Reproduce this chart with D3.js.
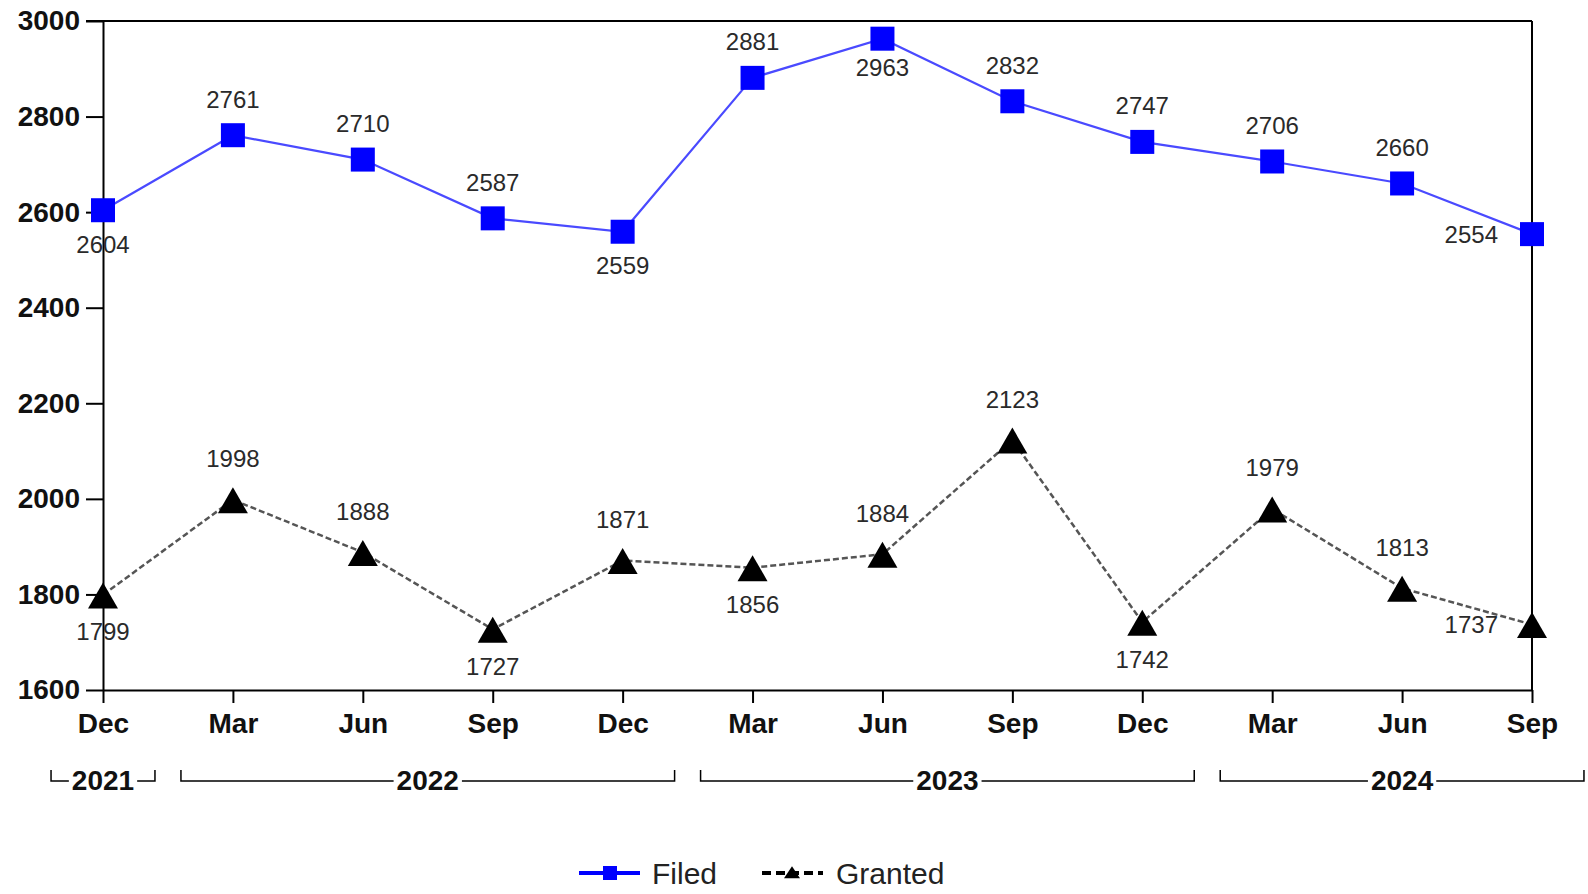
<!DOCTYPE html>
<html>
<head>
<meta charset="utf-8">
<script src="https://cdn.jsdelivr.net/npm/d3@7"></script>
<style>
  body { margin: 0; background: #fff; }
  text { font-family: "Liberation Sans", Arial, sans-serif; }
</style>
</head>
<body>
<script>
// quarters shown on the x axis
var months = ["Dec", "Mar", "Jun", "Sep", "Dec", "Mar", "Jun", "Sep", "Dec", "Mar", "Jun", "Sep"];
var years  = ["2021", "2022", "2022", "2022", "2022", "2023", "2023", "2023", "2023", "2024", "2024", "2024"];

var filed   = [2604, 2761, 2710, 2587, 2559, 2881, 2963, 2832, 2747, 2706, 2660, 2554];
var granted = [1799, 1998, 1888, 1727, 1871, 1856, 1884, 2123, 1742, 1979, 1813, 1737];

// where each value label sits relative to its marker
var filedSide   = ["below", "above", "above", "above", "below", "above", "below", "above", "above", "above", "above", "left"];
var grantedSide = ["below", "above", "above", "below", "above", "below", "above", "above", "below", "above", "above", "left"];

var yTicks = [1600, 1800, 2000, 2200, 2400, 2600, 2800, 3000];

var W = 1588, H = 894;
var mLeft = 103, mRight = 1532, mTop = 21, mBottom = 690;

var svg = d3.select("body").append("svg")
    .attr("width", W)
    .attr("height", H);

var x = d3.scaleLinear().domain([0, months.length - 1]).range([mLeft, mRight]);
var y = d3.scaleLinear().domain([1600, 3000]).range([mBottom, mTop]);

// frame: top and right edges
svg.append("line").attr("x1", mLeft - 17).attr("x2", mRight).attr("y1", mTop).attr("y2", mTop)
    .attr("stroke", "#000").attr("stroke-width", 2);
svg.append("line").attr("x1", mRight).attr("x2", mRight).attr("y1", mTop).attr("y2", mBottom)
    .attr("stroke", "#000").attr("stroke-width", 2);

// y axis
var yAxis = svg.append("g")
    .attr("transform", "translate(" + mLeft + ",0)")
    .call(d3.axisLeft(y).tickValues(yTicks).tickFormat(d3.format("d"))
      .tickSize(17).tickPadding(6).tickSizeOuter(0));
yAxis.select(".domain").attr("stroke-width", 2);
yAxis.selectAll(".tick line").attr("stroke-width", 2);
yAxis.selectAll(".tick text")
    .attr("font-size", "28px").attr("font-weight", "bold").attr("fill", "#111")
    .attr("font-family", "Liberation Sans, Arial, sans-serif");

// x axis
var xAxis = svg.append("g")
    .attr("transform", "translate(0," + mBottom + ")")
    .call(d3.axisBottom(x).tickValues(d3.range(months.length)).tickSize(13).tickPadding(10)
      .tickSizeOuter(0).tickFormat(function (i) { return months[i]; }));
xAxis.select(".domain").attr("stroke-width", 2);
xAxis.selectAll(".tick line").attr("stroke-width", 2);
xAxis.selectAll(".tick text")
    .attr("font-size", "28px").attr("font-weight", "bold").attr("fill", "#111")
    .attr("font-family", "Liberation Sans, Arial, sans-serif");

// year brackets below the month labels
var step = x(1) - x(0);
var groups = d3.groups(d3.range(years.length), function (i) { return years[i]; });
var bLine = 781, bTop = 770;
groups.forEach(function (g) {
  var idx = g[1];
  var x0 = x(idx[0]) - step * 0.4;
  var x1 = x(idx[idx.length - 1]) + step * 0.4;
  var cx = (x(idx[0]) + x(idx[idx.length - 1])) / 2;
  var t = svg.append("text")
      .attr("x", cx).attr("y", bLine + 9)
      .attr("text-anchor", "middle")
      .attr("font-size", "28px").attr("font-weight", "bold").attr("fill", "#111")
      .text(g[0]);
  var tw = t.node().getComputedTextLength();
  var gap = 3;
  var b = svg.append("g").attr("stroke", "#000").attr("stroke-width", 1.5).attr("fill", "none");
  b.append("path").attr("d", "M" + x0 + "," + bTop + "V" + bLine + "H" + (cx - tw / 2 - gap));
  b.append("path").attr("d", "M" + (cx + tw / 2 + gap) + "," + bLine + "H" + x1 + "V" + bTop);
});

var line = function (vals) {
  return d3.line().x(function (d, i) { return x(i); }).y(function (d) { return y(d); })(vals);
};

// granted series
svg.append("path")
    .attr("d", line(granted))
    .attr("fill", "none").attr("stroke", "#555").attr("stroke-width", 2.5)
    .attr("stroke-dasharray", "6,3");

// filed series
svg.append("path")
    .attr("d", line(filed))
    .attr("fill", "none").attr("stroke", "#4a4aff").attr("stroke-width", 2.2);

var tri = function (w, h) {
  return "M0," + (-h * 0.48) + "L" + (w / 2) + "," + (h * 0.52) + "L" + (-w / 2) + "," + (h * 0.52) + "Z";
};

svg.selectAll(".sq").data(filed).enter().append("rect")
    .attr("x", function (d, i) { return x(i) - 12; })
    .attr("y", function (d) { return y(d) - 12; })
    .attr("width", 24).attr("height", 24)
    .attr("fill", "#0000ff");

svg.selectAll(".tri").data(granted).enter().append("path")
    .attr("transform", function (d, i) { return "translate(" + x(i) + "," + y(d) + ")"; })
    .attr("d", tri(30, 26))
    .attr("fill", "#000");

// value labels
function labels(vals, sides, upOff, downOff) {
  svg.append("g").selectAll("text").data(vals).enter().append("text")
      .attr("x", function (d, i) { return sides[i] === "left" ? x(i) - 34 : x(i); })
      .attr("y", function (d, i) {
        if (sides[i] === "above") return y(d) - upOff;
        if (sides[i] === "below") return Math.min(y(d) + downOff, y(d) + (y(d) - mTop) + 11);
        return y(d);
      })
      .attr("text-anchor", function (d, i) { return sides[i] === "left" ? "end" : "middle"; })
      .attr("dominant-baseline", "central")
      .attr("font-size", "24px").attr("fill", "#2a2a2a")
      .text(function (d) { return d; });
}
labels(filed, filedSide, 36, 34);
labels(granted, grantedSide, 41, 37);

// legend
var ly = 873;
var lg = svg.append("g");
lg.append("line").attr("x1", 579).attr("x2", 640).attr("y1", ly).attr("y2", ly)
    .attr("stroke", "#0000ff").attr("stroke-width", 4);
lg.append("rect").attr("x", 603).attr("y", ly - 7).attr("width", 14).attr("height", 14).attr("fill", "#0000ff");
lg.append("text").attr("x", 652).attr("y", ly + 11).attr("font-size", "30px").attr("fill", "#222").text("Filed");

lg.append("line").attr("x1", 762).attr("x2", 823).attr("y1", ly).attr("y2", ly)
    .attr("stroke", "#000").attr("stroke-width", 4).attr("stroke-dasharray", "9,5");
lg.append("path").attr("transform", "translate(792," + (ly - 1) + ")").attr("d", tri(16, 12)).attr("fill", "#000");
lg.append("text").attr("x", 836).attr("y", ly + 11).attr("font-size", "30px").attr("fill", "#222").text("Granted");
</script>
</body>
</html>
